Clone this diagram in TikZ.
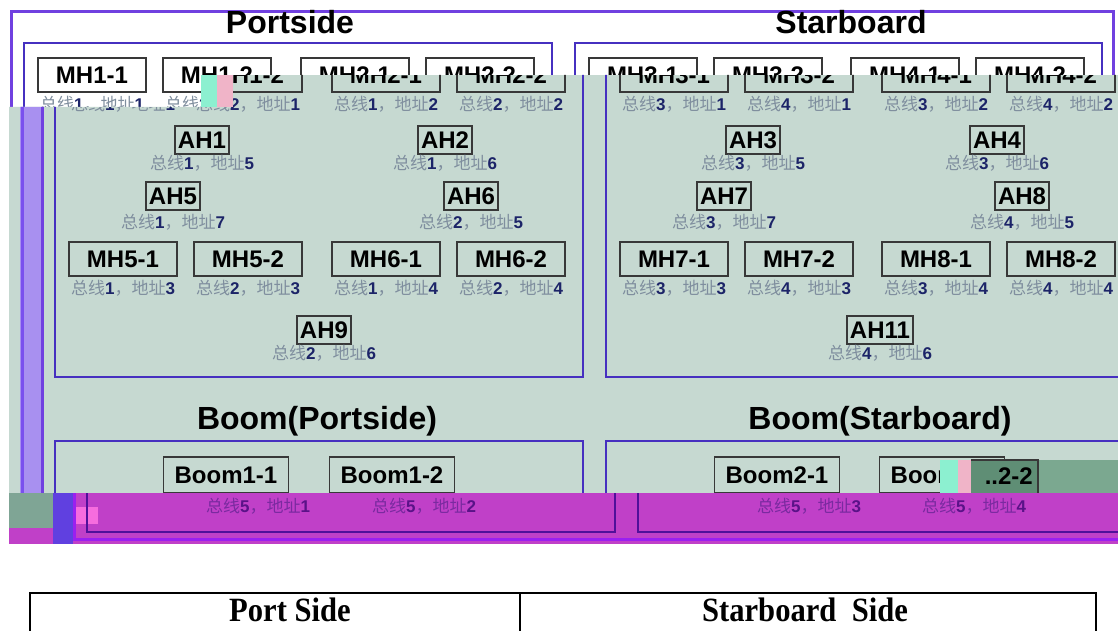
\documentclass[tikz,border=0pt]{standalone}
\usepackage{fontspec}
\usepackage{graphicx}
\setmainfont{Liberation Sans}
\newfontfamily\cjk{Noto Sans CJK SC}
\newfontfamily\tnr{Liberation Serif}
\definecolor{bggreen}{HTML}{C6D9D1}
\definecolor{lav}{HTML}{A890F0}
\definecolor{violetline}{HTML}{7A50EE}
\definecolor{outercol}{HTML}{7040E0}
\definecolor{innercol}{HTML}{4630C0}
\definecolor{boxcol}{HTML}{383838}
\definecolor{lblgray}{HTML}{7F8E9E}
\definecolor{lbldig}{HTML}{1C2468}
\definecolor{bandmag}{HTML}{C040C8}
\definecolor{bandgreen}{HTML}{7FA595}
\definecolor{bandblue}{HTML}{6040E0}
\definecolor{glitchcyan}{HTML}{8CF0D0}
\definecolor{glitchpink}{HTML}{F0B4C8}
\definecolor{glitchdark}{HTML}{5F8E75}
\definecolor{glitchmid}{HTML}{7BA890}
\tikzset{
  mhb/.style={draw=boxcol, line width=1.3pt, minimum width=108pt, minimum height=34pt,
    inner sep=0pt, text=black, font=\bfseries\fontsize{24pt}{26pt}\selectfont},
  ahb/.style={draw=boxcol, line width=1.3pt, inner xsep=3pt, inner ysep=0pt,
    minimum height=28pt, text=black, font=\bfseries\fontsize{24pt}{26pt}\selectfont},
  bmb/.style={mhb, minimum width=125pt, minimum height=36pt},
  lbl/.style={inner sep=0pt, font=\fontsize{17pt}{19pt}\selectfont},
  ttl/.style={inner sep=0pt, text=black, font=\bfseries\fontsize{32pt}{34pt}\selectfont},
  outerf/.style={draw=outercol, line width=3pt},
  innerf/.style={draw=innercol, line width=2.5pt},
  tabtext/.style={inner sep=0pt, anchor=base, font=\tnr\bfseries\fontsize{34pt}{36pt}\selectfont}
}
\newcommand\lab[2]{{\cjk\color{lblgray}总线}{\bfseries\color{lbldig}#1}{\cjk\color{lblgray}，地址}{\bfseries\color{lbldig}#2}}
\newcommand\lb[5]{\node[lbl] (#1) at (#2,#3) {\lab{#4}{#5}};}
\newcommand\mhl[7]{\node[mhb] (#1) at (#2,#3) {#4};\lb{#1l}{#2}{#7}{#5}{#6}}
\newcommand\ahl[7]{\node[ahb] (#1) at (#2,#3) {#4};\lb{#1l}{#2}{#7}{#5}{#6}}
% frames
\newcommand\dframes{%
  \draw[outerf] (42,12) rectangle (1144,539);
  \draw[innerf] (55,43) rectangle (583,377);
  \draw[innerf] (606,43) rectangle (1133,377);
  \draw[innerf] (55,441) rectangle (583,532);
  \draw[innerf] (606,441) rectangle (1133,532);
}
\begin{document}
\begin{tikzpicture}[x=1pt,y=-1pt]
\useasboundingbox (0,0) rectangle (1118,631);
\fill[white] (0,0) rectangle (1118,631);
% ---- unshifted top strip
\begin{scope}
  \clip (0,0) -- (1118,0) -- (1118,75) -- (215,75) -- (215,107) -- (0,107) -- cycle;
  \begin{scope}[xshift=-31pt]
    \dframes
    \node[ttl] (tport) at (321,22) {Portside};
    \node[ttl] (tstar) at (882,22) {Starboard};
    \mhl{Tm11}{123}{75}{MH1-1}{1}{1}{104}
    \mhl{Tm12}{248}{75}{MH1-2}{2}{1}{104}
    \node[mhb] (Tm21) at (386,75) {MH2-1};
    \node[mhb] (Tm22) at (511,75) {MH2-2};
    \node[mhb] (Tm31) at (674,75) {MH3-1};
    \node[mhb] (Tm32) at (799,75) {MH3-2};
    \node[mhb] (Tm41) at (936,75) {MH4-1};
    \node[mhb] (Tm42) at (1061,75) {MH4-2};
  \end{scope}
\end{scope}
% ---- shifted green part
\begin{scope}
  \clip (0,107) -- (215,107) -- (215,75) -- (1118,75) -- (1118,493) -- (0,493) -- cycle;
  \fill[bggreen] (9,75) rectangle (1118,493);
  \fill[lav] (20,75) rectangle (42,493);
  \draw[violetline, line width=3pt] (22,75) -- (22,493);
  \dframes
  \mhl{m11}{123}{75}{MH1-1}{1}{1}{104}
  \mhl{m12}{248}{75}{MH1-2}{2}{1}{104}
  \mhl{m21}{386}{75}{MH2-1}{1}{2}{104}
  \mhl{m22}{511}{75}{MH2-2}{2}{2}{104}
  \mhl{m31}{674}{75}{MH3-1}{3}{1}{104}
  \mhl{m32}{799}{75}{MH3-2}{4}{1}{104}
  \mhl{m41}{936}{75}{MH4-1}{3}{2}{104}
  \mhl{m42}{1061}{75}{MH4-2}{4}{2}{104}
  \ahl{a1}{202}{140}{AH1}{1}{5}{163}
  \ahl{a2}{445}{140}{AH2}{1}{6}{163}
  \ahl{a3}{753}{140}{AH3}{3}{5}{163}
  \ahl{a4}{997}{140}{AH4}{3}{6}{163}
  \ahl{a5}{173}{196}{AH5}{1}{7}{222}
  \ahl{a6}{471}{196}{AH6}{2}{5}{222}
  \ahl{a7}{724}{196}{AH7}{3}{7}{222}
  \ahl{a8}{1022}{196}{AH8}{4}{5}{222}
  \mhl{m51}{123}{259}{MH5-1}{1}{3}{288}
  \mhl{m52}{248}{259}{MH5-2}{2}{3}{288}
  \mhl{m61}{386}{259}{MH6-1}{1}{4}{288}
  \mhl{m62}{511}{259}{MH6-2}{2}{4}{288}
  \mhl{m71}{674}{259}{MH7-1}{3}{3}{288}
  \mhl{m72}{799}{259}{MH7-2}{4}{3}{288}
  \mhl{m81}{936}{259}{MH8-1}{3}{4}{288}
  \mhl{m82}{1061}{259}{MH8-2}{4}{4}{288}
  \ahl{a9}{324}{330}{AH9}{2}{6}{353}
  \ahl{a11}{880}{330}{AH11}{4}{6}{353}
  \node[ttl] (tbp) at (317,421) {Boom(Portside)};
  \node[ttl] (tbs) at (880,421) {Boom(Starboard)};
  \node[bmb] (b11) at (226,475) {Boom1-1};
  \node[bmb] (b12) at (392,475) {Boom1-2};
  \node[bmb] (b21) at (777,475) {Boom2-1};
  \node[bmb] (b22) at (942,475) {Boom2-2};
  \fill[glitchdark] (971,460) rectangle (1038,493);
  \fill[glitchcyan] (940,460) rectangle (958,493);
  \fill[glitchpink] (958,460) rectangle (971,493);
  \fill[glitchmid] (1038,460) rectangle (1118,493);
  \draw[boxcol, line width=1.3pt] (971,460) -- (1038,460) -- (1038,493);
  \node[inner sep=0pt, anchor=east, text=black, font=\bfseries\fontsize{24pt}{26pt}\selectfont] (gl22) at (1033,476) {..2-2};
\end{scope}
% ---- magenta band
\begin{scope}
  \clip (9,493) rectangle (1118,544);
  \fill[bandmag] (9,493) rectangle (1118,544);
  \fill[bandgreen] (9,493) rectangle (53,528);
  \fill[bandblue] (53,493) rectangle (73,544);
  \fill[glitchpink!60!magenta] (73,507) rectangle (98,524);
  \begin{scope}[xshift=32pt]
    \definecolor{outercol}{HTML}{9A20F0}
    \definecolor{innercol}{HTML}{50109A}
    \definecolor{lblgray}{HTML}{7A2AA0}
    \definecolor{lbldig}{HTML}{5A1288}
    \dframes
    \lb{b11l}{226}{506}{5}{1}
    \lb{b12l}{392}{506}{5}{2}
    \lb{b21l}{777}{506}{5}{3}
    \lb{b22l}{942}{506}{5}{4}
  \end{scope}
\end{scope}
% ---- glitch block at top left
\fill[glitchcyan] (201,75) rectangle (217,107);
\fill[glitchpink] (217,75) rectangle (233,107);
% ---- bottom table
\draw[black, line width=1.5pt] (30,640) -- (30,593) -- (1096,593) -- (1096,640);
\draw[black, line width=1.5pt] (520,593) -- (520,640);
\node[tabtext] (ps) at (290,621) {\scalebox{0.9}[1]{Port Side}};
\node[tabtext] (ss) at (805,621) {\scalebox{0.9}[1]{Starboard\ \ Side}};
\end{tikzpicture}
\end{document}
